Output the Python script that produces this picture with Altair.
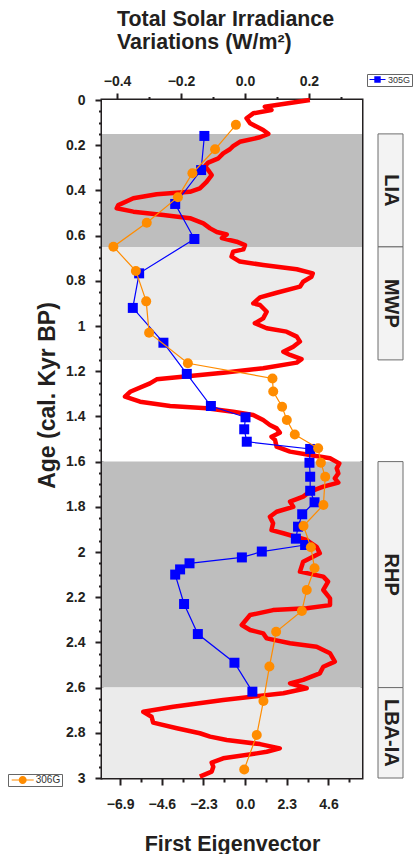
import altair as alt
import pandas as pd

# ---------------- data ----------------
# Total Solar Irradiance curve (top axis, W/m2) vs age (kyr BP)
tsi_age = [0.0, 0.030, 0.044, 0.059, 0.081, 0.103, 0.133, 0.150, 0.165, 0.185, 0.204, 0.218, 0.236,
           0.258, 0.277, 0.292, 0.310, 0.332, 0.362, 0.391, 0.406, 0.417, 0.435, 0.465, 0.479, 0.494,
           0.509, 0.523, 0.546, 0.568, 0.584, 0.595, 0.611, 0.627, 0.642, 0.661, 0.671, 0.693, 0.715,
           0.730, 0.749, 0.767, 0.782, 0.804, 0.826, 0.853, 0.873, 0.900, 0.907, 0.937, 0.966, 0.988,
           1.010, 1.025, 1.047, 1.069, 1.092, 1.114, 1.128, 1.147, 1.162, 1.187, 1.207, 1.221, 1.236,
           1.254, 1.291, 1.313, 1.335, 1.354, 1.364, 1.379, 1.394, 1.416, 1.438, 1.453, 1.472, 1.490,
           1.504, 1.534, 1.556, 1.571, 1.585, 1.608, 1.630, 1.652, 1.674, 1.693, 1.711, 1.733, 1.755,
           1.777, 1.800, 1.822, 1.844, 1.873, 1.903, 1.917, 1.947, 1.977, 2.006, 2.043, 2.087, 2.109,
           2.131, 2.168, 2.205, 2.235, 2.249, 2.257, 2.279, 2.323, 2.345, 2.360, 2.382, 2.404, 2.419,
           2.448, 2.485, 2.508, 2.537, 2.566, 2.581, 2.603, 2.625, 2.655, 2.685, 2.707, 2.729, 2.755,
           2.780, 2.802, 2.817, 2.832, 2.850, 2.869, 2.884, 2.891, 2.913, 2.932, 2.950, 2.972, 2.994]
tsi_val = [0.203, 0.062, 0.083, 0.026, 0.005, 0.016, 0.057, 0.073, 0.047, -0.016, -0.037, -0.047, -0.068,
           -0.083, -0.115, -0.125, -0.115, -0.104, -0.120, -0.141, -0.172, -0.276, -0.349, -0.396, -0.401, -0.349,
           -0.255, -0.172, -0.130, -0.109, -0.088, -0.057, -0.072, -0.026, 0.000, -0.005, -0.037, -0.042, -0.016,
           0.057, 0.162, 0.212, 0.208, 0.182, 0.172, 0.099, 0.047, 0.026, 0.047, 0.068, 0.057, 0.031,
           0.068, 0.130, 0.162, 0.172, 0.151, 0.120, 0.141, 0.177, 0.162, 0.057, -0.068, -0.172, -0.276,
           -0.297, -0.359, -0.375, -0.328, -0.234, -0.120, -0.037, 0.026, 0.057, 0.078, 0.099, 0.109, 0.083,
           0.094, 0.099, 0.141, 0.203, 0.266, 0.295, 0.287, 0.292, 0.281, 0.292, 0.245, 0.203, 0.182,
           0.141, 0.151, 0.099, 0.078, 0.088, 0.083, 0.120, 0.193, 0.224, 0.234, 0.182, 0.172, 0.245,
           0.260, 0.245, 0.266, 0.266, 0.193, 0.088, 0.016, -0.010, 0.016, 0.057, 0.068, 0.141, 0.224,
           0.266, 0.281, 0.245, 0.234, 0.182, 0.141, 0.193, 0.120, -0.068, -0.224, -0.318, -0.292, -0.287,
           -0.213, -0.141, -0.109, -0.057, 0.047, 0.109, 0.068, 0.037, -0.068, -0.104, -0.099, -0.104, -0.141]

# First eigenvector, core 305G
age_305 = [0.159, 0.310, 0.460, 0.615, 0.767, 0.920, 1.074, 1.212, 1.354, 1.404, 1.457, 1.512, 1.544,
           1.605, 1.667, 1.729, 1.780, 1.833, 1.888, 1.941, 1.969, 1.998, 2.024, 2.050, 2.077, 2.100,
           2.230, 2.363, 2.490, 2.618]
eig_305 = [-2.25, -2.43, -3.86, -2.80, -5.85, -6.20, -4.51, -3.22, -1.89, 0.02, -0.05, 0.09, 3.59,
           3.55, 3.59, 3.59, 3.83, 3.15, 2.92, 2.80, 3.31, 0.92, -0.18, -3.07, -3.59, -3.86,
           -3.37, -2.61, -0.59, 0.40]

# First eigenvector, core 306G
age_306 = [0.110, 0.218, 0.324, 0.430, 0.543, 0.649, 0.757, 0.891, 1.030, 1.165, 1.232, 1.290, 1.357,
           1.416, 1.480, 1.541, 1.605, 1.667, 1.792, 1.885, 1.979, 2.072, 2.168, 2.261, 2.353, 2.507,
           2.659, 2.810, 2.962]
eig_306 = [-0.51, -1.66, -2.91, -3.71, -5.43, -7.27, -6.03, -5.46, -5.30, -3.16, 1.51, 1.55, 2.04,
           2.30, 2.74, 4.03, 4.18, 4.42, 4.32, 3.22, 3.63, 3.83, 3.40, 3.13, 1.71, 1.34,
           1.01, 0.64, -0.05]

# shaded climate periods
band_start = [0.0, 0.15, 0.65, 1.15, 1.6, 2.6]
band_end = [0.15, 0.65, 1.15, 1.6, 2.6, 3.0]
band_kind = ["none", "dark", "light", "none", "dark", "light"]

period_names = ["LIA", "MWP", "RHP", "LBA-IA"]
period_start = [0.15, 0.65, 1.6, 2.6]
period_end = [0.65, 1.15, 2.6, 3.0]

# tick values
age_ticks = [round(i * 0.05, 2) for i in range(61)]
eig_ticks = [-6.9, -5.75, -4.6, -3.45, -2.3, -1.15, 0.0, 1.15, 2.3, 3.45, 4.6, 5.75]
tsi_ticks = [-0.4, -0.3, -0.2, -0.1, 0.0, 0.1, 0.2, 0.3]

series_305 = ["305G"]
series_306 = ["306G"]

# ---------------- frames ----------------
df_tsi = pd.DataFrame({"age": tsi_age, "tsi": tsi_val})
df_305 = pd.DataFrame({"age": age_305, "eig": eig_305, "series": series_305 * len(age_305)})
df_306 = pd.DataFrame({"age": age_306, "eig": eig_306, "series": series_306 * len(age_306)})
df_band = pd.DataFrame({"start": band_start, "end": band_end, "kind": band_kind})
df_per = pd.DataFrame({"name": period_names, "start": period_start, "end": period_end})

FONT = "Liberation Sans"
INK = "#231f20"
W, H = 260, 678

yscale = alt.Scale(domain=[0, 3], reverse=True, nice=False, zero=False)
yaxis = alt.Axis(
    values=age_ticks,
    labelExpr="abs(datum.value*5 - round(datum.value*5)) < 0.001 ? format(datum.value, '~g') : ''",
    tickSize={"condition": {"test": "abs(datum.value*5 - round(datum.value*5)) < 0.001", "value": 7}, "value": 3.5},
    tickWidth=2, tickColor=INK, domain=False, grid=False,
    labelFont=FONT, labelFontSize=14, labelFontWeight="bold", labelColor=INK, labelPadding=10,
    title="Age (cal. Kyr BP)", titleFont=FONT, titleFontSize=23, titleFontWeight="bold",
    titleColor=INK, titlePadding=6, titleY=295,
)


def Y(field):
    return alt.Y(field, type="quantitative", scale=yscale, axis=yaxis)


bands = alt.Chart(df_band).mark_rect().encode(
    y=Y("start"), y2="end",
    color=alt.Color("kind:N", scale=alt.Scale(domain=["none", "dark", "light"],
                                               range=["#ffffff", "#bebebe", "#ebebeb"]), legend=None),
)

tsi_line = alt.Chart(df_tsi).mark_line(color="#ff0000", strokeWidth=4.5, strokeJoin="round").encode(
    x=alt.X("tsi:Q", scale=alt.Scale(domain=[-0.447, 0.366], nice=False, zero=False),
            axis=alt.Axis(orient="top", values=tsi_ticks,
                          labelExpr="abs(datum.value*5 - round(datum.value*5)) < 0.001 ? format(datum.value, '.1f') : ''",
                          tickSize={"condition": {"test": "abs(datum.value*5 - round(datum.value*5)) < 0.001", "value": 7}, "value": 3.5},
                          tickWidth=2, tickColor=INK, domain=False, grid=False,
                          labelFont=FONT, labelFontSize=14, labelFontWeight="bold", labelColor=INK,
                          labelPadding=5, title=None)),
    y=Y("age"),
    order=alt.Order("age:Q"),
)

per_box = alt.Chart(df_per).mark_rect(fill="#f3f3f3", stroke="#6d6d6d", strokeWidth=1).encode(
    x=alt.value(276), x2=alt.value(301), y=Y("start"), y2="end",
)
per_text = alt.Chart(df_per).transform_calculate(mid="(datum.start + datum.end) / 2").mark_text(
    angle=90, font=FONT, fontSize=20, fontWeight="bold", color=INK, align="center", baseline="middle",
).encode(x=alt.value(289), y=Y("mid:Q"), text="name:N")

eig_scale = alt.Scale(domain=[-7.9, 6.45], nice=False, zero=False)
eig_axis = alt.Axis(
    orient="bottom", values=eig_ticks,
    labelExpr="abs(datum.value/2.3 - round(datum.value/2.3)) < 0.001 ? format(datum.value, '.1f') : ''",
    tickSize={"condition": {"test": "abs(datum.value/2.3 - round(datum.value/2.3)) < 0.001", "value": 7}, "value": 4},
    tickWidth=2, tickColor=INK, domain=False, grid=False,
    labelFont=FONT, labelFontSize=14, labelFontWeight="bold", labelColor=INK, labelPadding=12,
    title="First Eigenvector", titleFont=FONT, titleFontSize=21.5, titleFontWeight="bold",
    titleColor=INK, titlePadding=22,
)


def X():
    return alt.X("eig:Q", scale=eig_scale, axis=eig_axis)


SQ_PATH = "M-2,-0.15H2V0.15H-2Z M-0.8,-0.8H0.8V0.8H-0.8Z"
CI_PATH = "M-2.75,-0.15H2.75V0.15H-2.75Z M1,0A1,1,0,1,1,-1,0A1,1,0,1,1,1,0Z"

b_line = alt.Chart(df_305).mark_line(color="#0000ff", strokeWidth=1.2).encode(
    x=X(), y=Y("age"), order=alt.Order("age:Q"))
b_pts = alt.Chart(df_305).mark_point(shape="square", filled=True, size=100, opacity=1).encode(
    x=X(), y=Y("age"),
    color=alt.Color("series:N", scale=alt.Scale(domain=series_305, range=["#0000ff"]),
                    legend=alt.Legend(orient="none", legendX=265, legendY=-26, title=None,
                                      symbolType=SQ_PATH, symbolSize=64, symbolStrokeWidth=0,
                                      symbolOffset=5, labelOffset=6, padding=1,
                                      labelFont=FONT, labelFontSize=9, labelColor="#333333",
                                      strokeColor="#666666", fillColor="#ffffff")),
)
o_line = alt.Chart(df_306).mark_line(color="#ff8c00", strokeWidth=1.2).encode(
    x=X(), y=Y("age"), order=alt.Order("age:Q"))
o_pts = alt.Chart(df_306).mark_point(shape="circle", filled=True, size=100, opacity=1).encode(
    x=X(), y=Y("age"),
    color=alt.Color("series:N", scale=alt.Scale(domain=series_306, range=["#ff8c00"]),
                    legend=alt.Legend(orient="none", legendX=-94, legendY=674, title=None,
                                      symbolType=CI_PATH, symbolSize=64, symbolStrokeWidth=0,
                                      symbolOffset=8.7, labelOffset=8, padding=1,
                                      labelFont=FONT, labelFontSize=10, labelColor="#333333",
                                      strokeColor="#666666", fillColor="#ffffff")),
)

eig_layer = alt.layer(b_line, b_pts, o_line, o_pts).resolve_scale(color="independent")

chart = alt.layer(bands, tsi_line, per_box, per_text, eig_layer).resolve_scale(
    x="independent", color="independent"
).properties(
    width=W, height=H,
    autosize=alt.AutoSizeParams(type="none"),
    padding={"left": 102, "top": 100, "right": 58, "bottom": 76},
    title=alt.TitleParams(text=["Total Solar Irradiance", "Variations (W/m²)"], anchor="start",
                          frame="group", dx=15, font=FONT, fontSize=21.4, fontWeight="bold",
                          color=INK, lineHeight=23, offset=20),
).configure_view(stroke=INK, strokeWidth=3)

chart.save("out.html", embed_options={"renderer": "svg", "actions": False})
